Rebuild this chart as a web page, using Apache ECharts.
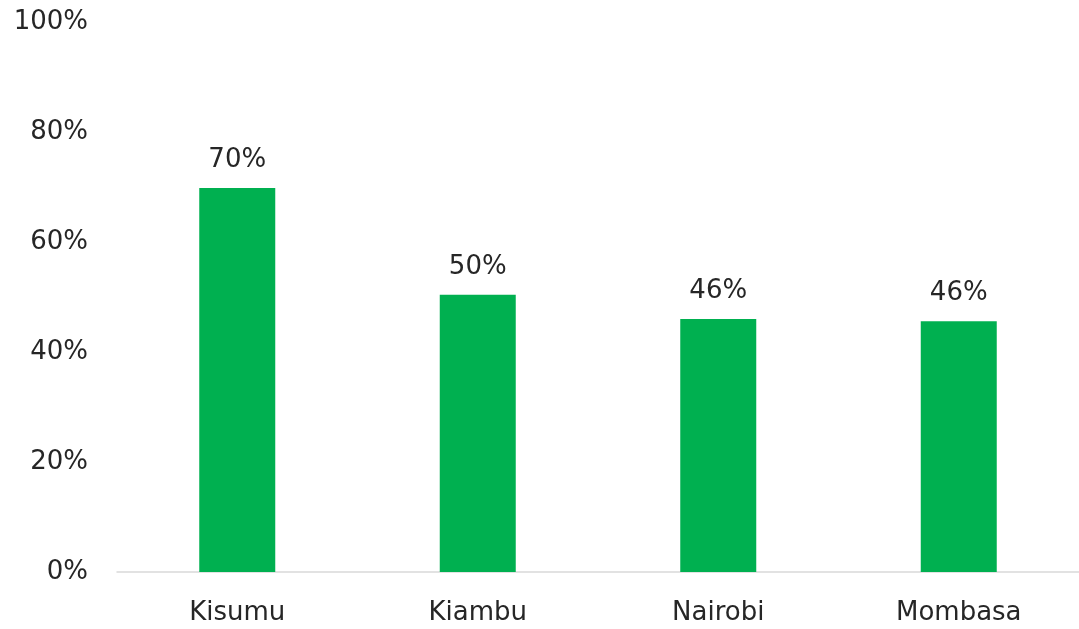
<!DOCTYPE html>
<html>
<head>
<meta charset="utf-8">
<script src="https://cdn.jsdelivr.net/npm/echarts@6/dist/echarts.min.js"></script>
<style>
  html, body { margin: 0; padding: 0; background: #fff; }
  #chart { width: 1079px; height: 629px; }
</style>
</head>
<body>
<div id="chart"></div>
<script>
// 柱状图
var counties = ['Kisumu', 'Kiambu', 'Nairobi', 'Mombasa'];
var shares = [69.8, 50.4, 46.0, 45.6];
var shareLabels = ['70%', '50%', '46%', '46%'];
var yTicks = [0, 20, 40, 60, 80, 100];

var myChart = echarts.init(document.getElementById('chart'), null, { renderer: 'canvas' });

var option = {
    animation: false,
    textStyle: {
        fontFamily: '"DejaVu Sans", sans-serif'
    },
    grid: {
        left: 117,
        right: 0,
        top: 22,
        bottom: 57
    },
    xAxis: {
        type: 'category',
        data: counties,
        axisLine: { lineStyle: { color: '#d9d9d9', width: 1.5 } },
        axisTick: { show: false },
        axisLabel: { fontSize: 26, color: '#262626', margin: 28 }
    },
    yAxis: {
        type: 'value',
        min: 0,
        max: 100,
        interval: 20,
        splitLine: { show: false },
        axisLabel: {
            fontSize: 26,
            color: '#262626',
            margin: 29,
            padding: [7, 0, 0, 0],
            formatter: function (v) { return yTicks.indexOf(v) >= 0 ? v + '%' : ''; }
        }
    },
    series: [{
        type: 'bar',
        data: shares,
        barWidth: 76,
        itemStyle: { color: '#00b050' },
        label: {
            show: true,
            position: 'top',
            distance: 15,
            fontSize: 26,
            color: '#262626',
            formatter: function (p) { return shareLabels[p.dataIndex]; }
        }
    }]
};

myChart.setOption(option);
</script>
</body>
</html>
